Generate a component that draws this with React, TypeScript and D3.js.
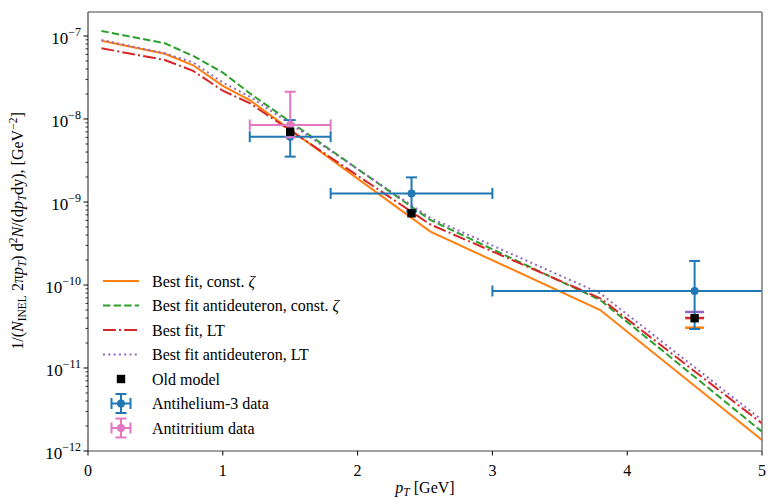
import React from "react";
import * as d3 from "d3";

// ---- data ----
const ptGrid = [0.1, 0.57, 0.78, 1.0, 1.2, 2.54, 3.8, 5.0];
const bestFitConst = [8.77e-8, 6.1e-8, 4.44e-8, 2.51e-8, 1.69e-8, 4.39e-10, 5.0e-11, 1.36e-12];
const bestFitAntidConst = [1.15e-7, 8.17e-8, 5.75e-8, 3.63e-8, 2.04e-8, 6.07e-10, 6.59e-11, 1.71e-12];
const bestFitLT = [7.11e-8, 5.14e-8, 3.8e-8, 2.19e-8, 1.55e-8, 5.36e-10, 6.92e-11, 2.15e-12];
const bestFitAntidLT = [8.95e-8, 6.19e-8, 4.79e-8, 2.75e-8, 1.86e-8, 6.41e-10, 7.94e-11, 2.36e-12];

const oldModelPt = [1.5, 2.4, 4.5];
const oldModelVal = [7.03e-9, 7.31e-10, 3.98e-11];

const he3Pt = [1.5, 2.4, 4.5];
const he3Val = [6.12e-9, 1.27e-9, 8.47e-11];
const he3PtLo = [1.2, 1.8, 3.0];
const he3PtHi = [1.8, 3.0, 6.0];
const he3ValLo = [3.52e-9, 7.7e-10, 2.95e-11];
const he3ValHi = [9.7e-9, 1.98e-9, 1.95e-10];

const h3Pt = [1.5];
const h3Val = [8.47e-9];
const h3PtLo = [1.2];
const h3PtHi = [1.8];
const h3ValLo = [6.0e-9];
const h3ValHi = [2.13e-8];

// model values at the 4.5 GeV bin
const binModelPt = 4.5;
const binModelVal = [3.06e-11, 4.0e-11, 4.73e-11];
const binModelColor = ["#ff7f0e", "#d62728", "#9467bd"];

const xTicks = [0, 1, 2, 3, 4, 5];
const yDecades = [-12, -11, -10, -9, -8, -7];

const seriesNames = [
  "Best fit, const. ",
  "Best fit antideuteron, const. ",
  "Best fit, LT",
  "Best fit antideuteron, LT",
];

const FONT = "'Liberation Serif', 'DejaVu Serif', serif";
const W = 776;
const H = 500;
const L = 88, R = 762, T = 12, B = 451;
const FS = 16;
const FSS = 11.5;

export default function App() {
  const x = d3.scaleLinear().domain([0, 5]).range([L, R]);
  const yTop = Math.pow(10, -7 + (36 - T) / 83);
  const y = d3.scaleLog().domain([1e-12, yTop]).range([B, T]);

  const line = d3
    .line<number>()
    .x((_, i) => x(ptGrid[i]))
    .y((v) => y(v));

  const series = [
    { vals: bestFitConst, color: "#ff7f0e", dash: "" },
    { vals: bestFitAntidConst, color: "#2ca02c", dash: "7.4,3.2" },
    { vals: bestFitLT, color: "#d62728", dash: "12.8,3.2,2,3.2" },
    { vals: bestFitAntidLT, color: "#9467bd", dash: "2,3.3" },
  ];

  const minorTicks: number[] = [];
  for (let e = -12; e <= -7; e++) {
    for (let m = 2; m <= 9; m++) {
      const v = m * Math.pow(10, e);
      if (v <= yTop) minorTicks.push(v);
    }
  }

  const errBar = (
    px: number, pv: number, xlo: number, xhi: number, vlo: number, vhi: number,
    color: string, key: string
  ) => {
    const cx = x(px), cy = y(pv);
    const x0 = Math.max(L, x(xlo)), x1 = Math.min(R, x(xhi));
    const y0 = y(vlo), y1 = y(vhi);
    const c = 5.5;
    return (
      <g key={key} stroke={color} strokeWidth={2} fill="none">
        <line x1={x0} x2={x1} y1={cy} y2={cy} />
        <line x1={cx} x2={cx} y1={y0} y2={y1} />
        {x(xlo) >= L && <line x1={x0} x2={x0} y1={cy - c} y2={cy + c} />}
        {x(xhi) <= R && <line x1={x1} x2={x1} y1={cy - c} y2={cy + c} />}
        <line x1={cx - c} x2={cx + c} y1={y0} y2={y0} />
        <line x1={cx - c} x2={cx + c} y1={y1} y2={y1} />
        <circle cx={cx} cy={cy} r={4} fill={color} stroke="none" />
      </g>
    );
  };

  const legendY0 = 281;
  const legendDy = 24.5;
  const hx0 = 103, hx1 = 139, hcx = 121, tx = 152;

  return (
    <svg width={W} height={H} style={{ display: "block", position: "absolute", left: 0, top: 0 }} fontFamily={FONT}>
      <rect width={W} height={H} fill="#fff" />
      <defs>
        <clipPath id="plotclip">
          <rect x={L} y={T} width={R - L} height={B - T} />
        </clipPath>
      </defs>

      <g clipPath="url(#plotclip)">
        {series.map((s, i) => (
          <path key={i} d={line(s.vals) || ""} fill="none" stroke={s.color} strokeWidth={2}
            strokeDasharray={s.dash || undefined} />
        ))}
        {binModelVal.map((v, i) => (
          <line key={"bm" + i} x1={x(binModelPt) - 9.5} x2={x(binModelPt) + 9.5} y1={y(v)} y2={y(v)}
            stroke={binModelColor[i]} strokeWidth={2.5} />
        ))}
        {he3Pt.map((p, i) =>
          errBar(p, he3Val[i], he3PtLo[i], he3PtHi[i], he3ValLo[i], he3ValHi[i], "#1f77b4", "he" + i)
        )}
        {h3Pt.map((p, i) =>
          errBar(p, h3Val[i], h3PtLo[i], h3PtHi[i], h3ValLo[i], h3ValHi[i], "#e377c2", "h3" + i)
        )}
        {oldModelPt.map((p, i) => (
          <rect key={"om" + i} x={x(p) - 4.2} y={y(oldModelVal[i]) - 4.2} width={8.4} height={8.4} fill="#000" />
        ))}
      </g>

      {/* spines */}
      <g stroke="#808080" strokeWidth={1.6} fill="none">
        <line x1={L} x2={R} y1={T} y2={T} stroke="#444" strokeWidth={1.2} />
        <line x1={R} x2={R} y1={T} y2={B} />
        <line x1={L} x2={R} y1={B} y2={B} />
        <line x1={L} x2={L} y1={T} y2={B} stroke="#444" strokeWidth={1.2} />
      </g>

      {/* x ticks */}
      {xTicks.map((t) => (
        <g key={"xt" + t}>
          <line x1={x(t)} x2={x(t)} y1={B} y2={B + 4.5} stroke="#000" strokeWidth={1} />
          <text x={x(t)} y={476} fontSize={FS} textAnchor="middle" fill="#000">{t}</text>
        </g>
      ))}

      {/* y ticks */}
      {minorTicks.map((v, i) => (
        <line key={"ym" + i} x1={L - 2.5} x2={L} y1={y(v)} y2={y(v)} stroke="#000" strokeWidth={0.8} />
      ))}
      {yDecades.map((e) => (
        <g key={"yt" + e}>
          <line x1={L - 4.5} x2={L} y1={y(Math.pow(10, e))} y2={y(Math.pow(10, e))} stroke="#000" strokeWidth={1} />
          <text x={81} y={y(Math.pow(10, e)) + 8} fontSize={FS + 1} textAnchor="end" fill="#000">
            10<tspan fontSize={12} dy={-8}>{"\u2212" + Math.abs(e)}</tspan>
          </text>
        </g>
      ))}

      {/* axis labels */}
      <text x={425} y={493} fontSize={FS} textAnchor="middle" fill="#000">
        <tspan fontStyle="italic">p</tspan>
        <tspan fontSize={FSS} fontStyle="italic" dy={3}>T</tspan>
        <tspan dy={-3}> [GeV]</tspan>
      </text>
      <text transform="translate(23,231) rotate(-90)" fontSize={FS} textAnchor="middle" fill="#000">
        1/(<tspan fontStyle="italic">N</tspan>
        <tspan fontSize={FSS} dy={3}>INEL</tspan>
        <tspan dy={-3}> 2π</tspan>
        <tspan fontStyle="italic">p</tspan>
        <tspan fontSize={FSS} fontStyle="italic" dy={3}>T</tspan>
        <tspan dy={-3}>) d</tspan>
        <tspan fontSize={FSS} dy={-6}>2</tspan>
        <tspan fontStyle="italic" dy={6}>N</tspan>
        <tspan>/(d</tspan>
        <tspan fontStyle="italic">p</tspan>
        <tspan fontSize={FSS} fontStyle="italic" dy={3}>T</tspan>
        <tspan dy={-3}>dy), [GeV</tspan>
        <tspan fontSize={FSS} dy={-6}>{"\u22122"}</tspan>
        <tspan dy={6}>]</tspan>
      </text>

      {/* legend */}
      {series.map((s, i) => {
        const ly = legendY0 + i * legendDy;
        return (
          <g key={"lg" + i}>
            <line x1={hx0} x2={hx1} y1={ly} y2={ly} stroke={s.color} strokeWidth={2}
              strokeDasharray={s.dash || undefined} />
            <text x={tx} y={ly + 5.5} fontSize={FS} fill="#000">
              {seriesNames[i]}
              {i < 2 && <tspan fontStyle="italic">ζ</tspan>}
            </text>
          </g>
        );
      })}
      <g>
        <rect x={hcx - 4.2} y={legendY0 + 4 * legendDy - 4.2} width={8.4} height={8.4} fill="#000" />
        <text x={tx} y={legendY0 + 4 * legendDy + 5.5} fontSize={FS} fill="#000">Old model</text>
      </g>
      {[
        { c: "#1f77b4", t: "Antihelium-3 data" },
        { c: "#e377c2", t: "Antitritium data" },
      ].map((h, j) => {
        const ly = legendY0 + (5 + j) * legendDy;
        const hw = 9.5, c = 5.5;
        return (
          <g key={"le" + j}>
            <g stroke={h.c} strokeWidth={2}>
              <line x1={hcx - hw} x2={hcx + hw} y1={ly} y2={ly} />
              <line x1={hcx} x2={hcx} y1={ly - hw} y2={ly + hw} />
              <line x1={hcx - hw} x2={hcx - hw} y1={ly - c} y2={ly + c} />
              <line x1={hcx + hw} x2={hcx + hw} y1={ly - c} y2={ly + c} />
              <line x1={hcx - c} x2={hcx + c} y1={ly - hw} y2={ly - hw} />
              <line x1={hcx - c} x2={hcx + c} y1={ly + hw} y2={ly + hw} />
            </g>
            <circle cx={hcx} cy={ly} r={4} fill={h.c} />
            <text x={tx} y={ly + 5.5} fontSize={FS} fill="#000">{h.t}</text>
          </g>
        );
      })}
    </svg>
  );
}
